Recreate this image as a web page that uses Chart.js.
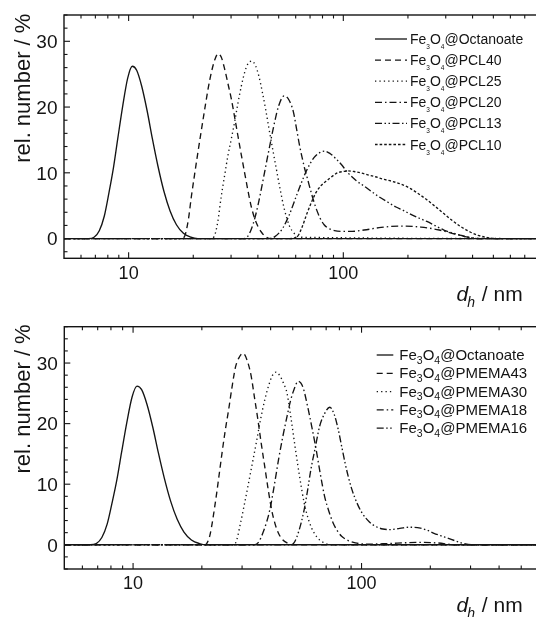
<!DOCTYPE html>
<html>
<head>
<meta charset="utf-8">
<script src="https://cdn.jsdelivr.net/npm/chart.js@4.4.1/dist/chart.umd.min.js"></script>
<style>
  html, body { margin: 0; padding: 0; background: #fff; overflow: hidden; }
  #wrap { position: relative; width: 536px; height: 617px; overflow: hidden; }
  canvas { position: absolute; left: 0; }
  #top { top: 0; }
  #bottom { top: 310px; }
</style>
</head>
<body>
<div id="wrap">
  <canvas id="top" width="560" height="310"></canvas>
  <canvas id="bottom" width="592" height="307"></canvas>
</div>
<script>
// hydrodynamic diameter d_h (nm) and rel. number (%)

// shared: Fe3O4@Octanoate
const octD = [5, 6.5, 6.9, 7.3, 7.7, 8.1, 8.5, 8.9, 9.4, 9.9, 10.4, 10.9, 11.5, 12.2, 12.9, 13.7, 14.6, 15.6, 16.7, 18, 19.5, 21, 1000];
const octN = [0, 0, 0.2, 1.2, 3.4, 7.0, 10.8, 15.2, 20.3, 24.4, 26.2, 25.6, 23.2, 19.4, 15.2, 11, 7.2, 4.2, 2.1, 0.8, 0.2, 0, 0];

// top panel: PCL shells
const pcl40D = [5, 17.5, 18.2, 19, 19.6, 20.3, 21, 21.8, 22.6, 23.4, 24.3, 25.2, 26.1, 27, 28, 29, 30.1, 31.2, 32.3, 33.5, 34.7, 36, 37.3, 38.7, 40.1, 41.5, 43, 46, 1000];
const pcl40N = [0, 0, 0.3, 3, 6.4, 9.8, 13, 16.4, 19.6, 22.6, 25.3, 27.2, 28.1, 27.6, 25.8, 23.6, 21.2, 18.4, 15.6, 12.7, 10, 7.2, 4.8, 3, 1.8, 1, 0.4, 0, 0];

const pcl25D = [5, 24, 25, 26, 27, 28, 29, 30.1, 31.2, 32.3, 33.5, 34.8, 36, 37.5, 39, 40.5, 42, 43.5, 45, 47, 49, 51, 53, 56, 59, 63, 1000];
const pcl25N = [0, 0, 0.3, 2.5, 6.4, 9.6, 12.6, 15.2, 17.8, 20.6, 23.2, 25.4, 26.6, 27, 26.3, 24.6, 22.2, 19.6, 16.8, 13.4, 10.2, 7.2, 4.6, 2, 0.8, 0.2, 0];

const pcl20D = [5, 34, 36, 38, 40, 42, 44, 46, 48, 50, 53, 56, 58.5, 60.7, 62.5, 64.5, 66, 67.7, 71, 74.3, 78, 81.4, 86, 91, 100, 110, 125, 150, 185, 230, 280, 330, 390, 450, 1000];
const pcl20N = [0, 0, 0.4, 2.2, 5, 8.4, 11.8, 15, 17.9, 20.2, 21.7, 21, 19.3, 16.5, 14.2, 12.1, 10.7, 9.4, 6.9, 4.8, 3.1, 2.1, 1.5, 1.2, 1.1, 1.1, 1.3, 1.7, 1.9, 1.75, 1.3, 0.7, 0.15, 0, 0];

const pcl13D = [5, 45, 48, 52, 56, 60, 64, 68, 73, 78, 82, 87, 92, 97.7, 105, 115, 126, 136, 146, 160, 176, 190, 203, 222, 245, 270, 294, 323, 353, 385, 420, 1000];
const pcl13N = [0, 0, 0.3, 1.5, 3.6, 6.2, 8.6, 10.6, 12.3, 13.1, 13.3, 12.9, 12.2, 11.3, 10, 8.8, 7.9, 7.1, 6.4, 5.6, 4.8, 4.3, 3.8, 3.2, 2.6, 1.9, 1.3, 0.85, 0.5, 0.2, 0, 0];

const pcl10D = [5, 56, 61, 64, 67.7, 71, 74.3, 79, 84.4, 89, 94, 100, 105, 112, 120, 130, 141, 155, 169, 185, 203, 222, 245, 270, 294, 323, 353, 390, 424, 470, 520, 1000];
const pcl10N = [0, 0, 0.3, 1.6, 3.8, 5.5, 6.9, 8.1, 8.9, 9.5, 10, 10.2, 10.3, 10.2, 10, 9.7, 9.4, 9.0, 8.7, 8.3, 7.7, 6.9, 5.9, 4.8, 3.8, 2.7, 1.8, 1.0, 0.5, 0.15, 0, 0];

// bottom panel: PMEMA shells
const pm43D = [5, 20.5, 21, 21.7, 22.9, 23.7, 24.5, 25.3, 26.2, 27.1, 28.1, 29.2, 30.3, 31.6, 32.9, 34, 35.2, 36.4, 37.7, 39, 40.4, 41.8, 43.3, 45, 47.2, 50, 1000];
const pm43N = [0, 0, 0.2, 1.6, 6.9, 11, 15.1, 18.8, 22.3, 26, 29.4, 31, 31.6, 30.4, 27.8, 24.3, 20.6, 16.7, 12.9, 9.2, 5.8, 3.5, 1.9, 0.9, 0.3, 0, 0];

const pm30D = [5, 27, 28.1, 29.5, 31.2, 32.9, 34.6, 36.1, 37.7, 39.3, 40.8, 42.3, 43.9, 45.5, 47.2, 49.3, 51.4, 53.7, 56.1, 59, 62.1, 65.5, 68.8, 73, 1000];
const pm30N = [0, 0, 0.3, 3.5, 8, 12.5, 16.8, 20.6, 23.9, 26.4, 28, 28.5, 27.9, 26.7, 25, 20.5, 15.7, 11, 6.9, 3.8, 1.9, 0.8, 0.3, 0, 0];

const pm18D = [5, 34, 35.2, 37.3, 39.7, 41.5, 43.3, 45.2, 47.2, 48.9, 50.6, 52.8, 55.4, 58.1, 60.7, 63.3, 66, 68.9, 72, 75.1, 78.4, 81.8, 87.5, 94, 105, 130, 160, 185, 215, 260, 1000];
const pm18N = [0, 0, 0.3, 2.3, 5.8, 9.8, 14, 17.8, 21.2, 23.8, 25.6, 27, 26, 22.8, 19.3, 15.7, 11.7, 8, 5.5, 3.6, 2.3, 1.4, 0.7, 0.3, 0.1, 0.2, 0.35, 0.4, 0.3, 0, 0];

const pm16D = [5, 49, 50.6, 53.3, 56.1, 58, 60, 62.7, 65.5, 69, 72.6, 75.8, 79.1, 81.9, 84.7, 87.7, 90.8, 95.5, 100.7, 108, 115.6, 124, 132.6, 147, 163.3, 181, 194, 207.5, 222, 238.3, 255, 273.5, 303, 1000];
const pm16N = [0, 0, 0.3, 2.4, 5.8, 8.9, 12.4, 16, 19.5, 21.7, 22.7, 21.6, 19, 16.2, 13.5, 11.1, 9.1, 6.9, 5.2, 3.8, 3.0, 2.6, 2.5, 2.7, 2.9, 2.75, 2.4, 1.9, 1.5, 1.1, 0.7, 0.3, 0, 0];

// legend names (after the Fe3O4 prefix)
const topNames = ['@Octanoate', '@PCL40', '@PCL25', '@PCL20', '@PCL13', '@PCL10'];
const bottomNames = ['@Octanoate', '@PMEMA43', '@PMEMA30', '@PMEMA18', '@PMEMA16'];

// ticks
const xTickValues = [10, 100];
const xTickLabels = ['10', '100'];
const xMinor = [6, 7, 8, 9, 20, 30, 40, 50, 60, 70, 80, 90, 200, 300, 400, 500, 600, 700, 800, 900];
const yTickValues = [0, 10, 20, 30];
const yTickLabels = ['0', '10', '20', '30'];

const FONT = '"Liberation Sans", Arial, Helvetica, sans-serif';
const ink = '#141414';

const solid = [];
const dashed = [6, 4];
const dotted = [1.3, 3.1];
const dashDot = [7, 3, 1.5, 3];
const dashDotDot = [7, 2.5, 1.5, 2.5, 1.5, 2.5];
const shortDash = [2.6, 2];

function pts(xs, ys) {
  return xs.map((d, i) => ({ x: d, y: ys[i] }));
}

function line(ctx, x1, y1, x2, y2) {
  ctx.beginPath();
  ctx.moveTo(x1, y1);
  ctx.lineTo(x2, y2);
  ctx.stroke();
}

// frame with inward ticks, labels, titles and legend
const framePlugin = {
  id: 'frame',
  afterDraw(chart, args, o) {
    const { ctx, chartArea: a, scales: { x, y } } = chart;
    ctx.save();
    ctx.strokeStyle = ink;
    ctx.fillStyle = ink;
    ctx.lineWidth = 1.4;
    ctx.setLineDash([]);
    ctx.strokeRect(a.left, a.top, a.right - a.left, a.bottom - a.top);

    ctx.lineWidth = 1.1;
    xMinor.forEach(v => {
      const px = x.getPixelForValue(v);
      line(ctx, px, a.bottom, px, a.bottom - 3.5);
      line(ctx, px, a.top, px, a.top + 3.5);
    });
    xTickValues.forEach(v => {
      const px = x.getPixelForValue(v);
      line(ctx, px, a.bottom, px, a.bottom - 6);
      line(ctx, px, a.top, px, a.top + 6);
    });
    for (let v = Math.ceil(o.yMin / 2) * 2; v <= o.yMax; v += 2) {
      const py = y.getPixelForValue(v);
      const len = v % 10 === 0 ? 6 : 3.5;
      line(ctx, a.left, py, a.left + len, py);
      line(ctx, a.right, py, a.right - len, py);
    }

    // tick labels
    ctx.font = '18px ' + FONT;
    ctx.textAlign = 'center';
    ctx.textBaseline = 'alphabetic';
    xTickValues.forEach((v, i) => {
      ctx.fillText(xTickLabels[i], x.getPixelForValue(v), a.bottom + 20.3);
    });
    ctx.font = '19px ' + FONT;
    ctx.textAlign = 'right';
    yTickValues.forEach((v, i) => {
      ctx.fillText(yTickLabels[i], a.left - 6.5, y.getPixelForValue(v) + 6.8);
    });

    // y title
    ctx.save();
    ctx.translate(29.5, a.bottom - 95.5);
    ctx.rotate(-Math.PI / 2);
    ctx.textAlign = 'left';
    ctx.font = '22px ' + FONT;
    ctx.fillText('rel. number / %', 0, 0);
    ctx.restore();

    // x title: d_h / nm
    ctx.textAlign = 'left';
    const base = a.bottom + 42.7;
    const fMain = 'italic 21px ' + FONT;
    const fSub = 'italic 14px ' + FONT;
    const fRest = '21px ' + FONT;
    ctx.font = fMain; const wd = ctx.measureText('d').width;
    ctx.font = fSub; const wh = ctx.measureText('h').width;
    ctx.font = fRest; const wr = ctx.measureText(' / nm').width;
    let tx = 522.7 - (wd + wh + wr);
    ctx.font = fMain; ctx.fillText('d', tx, base); tx += wd;
    ctx.font = fSub; ctx.fillText('h', tx - 1, base + 6); tx += wh;
    ctx.font = fRest; ctx.fillText(' / nm', tx, base);

    // legend
    const L = o.legend;
    chart.data.datasets.forEach((ds, i) => {
      const by = L.y0 + L.dy * i;
      ctx.lineWidth = 1.3;
      ctx.setLineDash(ds.borderDash || []);
      line(ctx, L.x0, by - 5, L.x1, by - 5);
      ctx.setLineDash([]);
      let cx = L.tx;
      const parts = [['Fe', 0], ['3', 1], ['O', 0], ['4', 1], [o.names[i], 0]];
      parts.forEach(([t, s]) => {
        ctx.font = (s ? L.sub : L.size) + 'px ' + FONT;
        ctx.fillText(t, cx, by + (s ? L.subDy : 0));
        cx += ctx.measureText(t).width;
      });
    });
    ctx.restore();
  }
};

function ds(xs, ys, dash) {
  return {
    data: pts(xs, ys),
    borderColor: ink,
    borderWidth: 1.35,
    borderDash: dash,
    borderCapStyle: 'butt',
    pointRadius: 0,
    fill: false,
    cubicInterpolationMode: 'monotone'
  };
}

function makeChart(id, datasets, o) {
  return new Chart(document.getElementById(id), {
    type: 'line',
    data: { datasets },
    options: {
      responsive: false,
      animation: false,
      events: [],
      layout: { padding: o.padding },
      scales: {
        x: { type: 'logarithmic', min: 5, max: 1000, display: false },
        y: { type: 'linear', min: o.yMin, max: o.yMax, display: false }
      },
      plugins: {
        legend: { display: false },
        tooltip: { enabled: false },
        frame: o
      }
    },
    plugins: [framePlugin]
  });
}

makeChart('top', [
  ds(octD, octN, solid),
  ds(pcl40D, pcl40N, dashed),
  ds(pcl25D, pcl25N, dotted),
  ds(pcl20D, pcl20N, dashDot),
  ds(pcl13D, pcl13N, dashDotDot),
  ds(pcl10D, pcl10N, shortDash)
], {
  yMin: -3, yMax: 34,
  padding: { left: 64, top: 15, right: 2, bottom: 51.7 },
  names: topNames,
  legend: { x0: 375, x1: 407, tx: 410, y0: 44, dy: 21.1, size: 14, sub: 6.5, subDy: 5 }
});

makeChart('bottom', [
  ds(octD, octN, solid),
  ds(pm43D, pm43N, dashed),
  ds(pm30D, pm30N, dotted),
  ds(pm18D, pm18N, dashDot),
  ds(pm16D, pm16N, dashDotDot)
], {
  yMin: -4, yMax: 36,
  padding: { left: 64.3, top: 16.7, right: 2, bottom: 48 },
  names: bottomNames,
  legend: { x0: 376.7, x1: 393.3, tx: 399.3, y0: 50, dy: 18.3, size: 15, sub: 10.5, subDy: 3.5 }
});
</script>
</body>
</html>
